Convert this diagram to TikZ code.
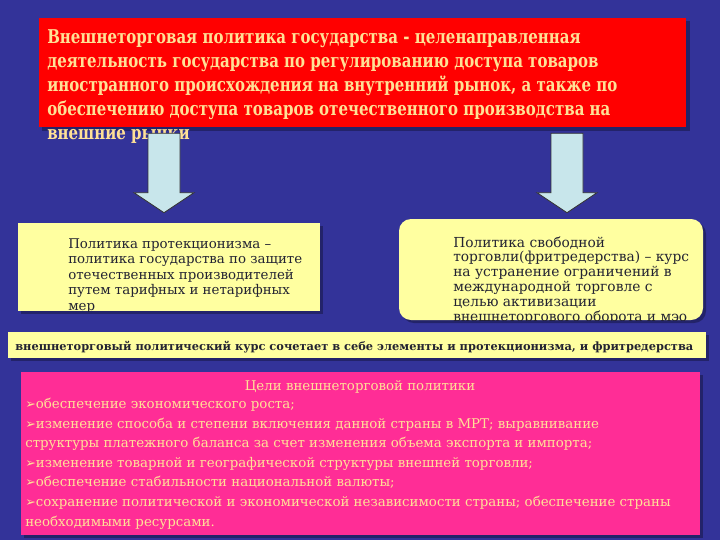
\documentclass[tikz,border=0pt]{standalone}
\usepackage{fontspec}
\setmainfont{DejaVu Serif}
\newfontfamily\estreita[FakeStretch=0.79]{DejaVu Serif}
\newfontfamily\marcador{DejaVu Sans}
\usetikzlibrary{positioning}
\usetikzlibrary{fit}
\usetikzlibrary{calc}
\definecolor{fundo}{RGB}{51,51,153}
\definecolor{vermelho}{RGB}{255,0,0}
\definecolor{amarelo}{RGB}{255,255,160}
\definecolor{rosa}{RGB}{255,45,150}
\definecolor{creme}{RGB}{255,225,150}
\definecolor{azulclaro}{RGB}{200,230,235}
\definecolor{tinta}{RGB}{35,35,50}
\tikzset{
  caixa/.style={fill=#1, inner sep=0pt},
  sombra/.style={fill=black, opacity=0.3},
  texto/.style={inner sep=0pt, anchor=base west, align=left},
  seta/.style={fill=azulclaro, draw=black!80, line width=0.6pt, line join=miter},
}
\newcommand{\alvo}{{\marcador\fontsize{9}{9}\selectfont ➢}}
\newcommand{\setabloco}[2]{%
  \filldraw[seta] ($(#1)+(-16,0)$) -- ($(#2)+(-16,-20)$) -- ($(#2)+(-30,-20)$)
    -- (#2) -- ($(#2)+(30,-20)$) -- ($(#2)+(16,-20)$) -- ($(#1)+(16,0)$) -- cycle;}

\begin{document}
\begin{tikzpicture}[x=0.025cm, y=-0.025cm]
  \fill[fundo] (0,0) rectangle (720,540);
  \useasboundingbox (0,0) rectangle (720,540);

  % sombras
  \fill[sombra] (42,21) rectangle (690,131);
  \fill[sombra] (21,226) rectangle (323,314);
  \fill[sombra, rounded corners=8.5pt] (402,222) rectangle (706,323);
  \fill[sombra] (11,335) rectangle (709,361);
  \fill[sombra] (24,375) rectangle (703,538);

  \node[caixa=vermelho, fit={(39,18) (686,127)}] (defn) {};
  \node[caixa=amarelo, fit={(18,223) (320,311)}] (protec) {};
  \node[caixa=amarelo, rounded corners=8.5pt, fit={(399,219) (703,320)}] (livre) {};
  \node[caixa=amarelo, fit={(8,332) (706,358)}] (misto) {};
  \node[caixa=rosa, fit={(21,372) (700,535)}] (metas) {};

  % base = ultima linha
  \node[texto, text=creme, font=\estreita\bfseries\fontsize{13.5}{16.9}\selectfont] (defntxt) at (47,139)
    {Внешнеторговая политика государства - целенаправленная\\
     деятельность государства по регулированию доступа товаров\\
     иностранного происхождения на внутренний рынок, а также по\\
     обеспечению доступа товаров отечественного производства на\\
     внешние рынки};

  \begin{scope}
    \clip (protec.south west) rectangle (protec.north east);
    \node[texto, text=tinta, font=\fontsize{9.5}{11}\selectfont] (protectxt) at (68,310)
      {Политика протекционизма –\\
       политика государства по защите\\
       отечественных производителей\\
       путем тарифных и нетарифных\\
       мер};
  \end{scope}

  \begin{scope}
    \clip[rounded corners=8.5pt] (livre.south west) rectangle (livre.north east);
    \node[texto, text=tinta, font=\fontsize{9.8}{10.5}\selectfont] (livretxt) at (453,321)
      {Политика свободной\\
       торговли(фритредерства) – курс\\
       на устранение ограничений в\\
       международной торговле с\\
       целью активизации\\
       внешнеторгового оборота и мэо};
  \end{scope}

  \node[texto, text=tinta, font=\bfseries\fontsize{8.1}{10}\selectfont] (mistotxt) at (15,350)
    {внешнеторговый политический курс сочетает в себе элементы и протекционизма, и фритредерства};

  \node[inner sep=0pt, anchor=base, text=creme, font=\fontsize{9.5}{13.9}\selectfont] (metastit) at (360,390)
    {Цели внешнеторговой политики};
  \node[texto, text=creme, font=\fontsize{9.5}{13.9}\selectfont] (metastxt) at (25,526)
    {\alvo обеспечение экономического роста;\\
     \alvo изменение способа и степени включения данной страны в МРТ; выравнивание\\
     структуры платежного баланса за счет изменения объема экспорта и импорта;\\
     \alvo изменение товарной и географической структуры внешней торговли;\\
     \alvo обеспечение стабильности национальной валюты;\\
     \alvo сохранение политической и экономической независимости страны; обеспечение страны\\
     необходимыми ресурсами.};

  % setas
  \coordinate (xe) at (164,0);
  \coordinate (xd) at (567,0);
  \coordinate (eTopo) at ($(defn.south -| xe)+(0,6)$);
  \coordinate (ePonta) at ($(protec.north -| xe)+(0,-10)$);
  \coordinate (dTopo) at ($(defn.south -| xd)+(0,6)$);
  \coordinate (dPonta) at ($(livre.north -| xd)+(0,-6)$);
  \setabloco{eTopo}{ePonta}
  \setabloco{dTopo}{dPonta}
\end{tikzpicture}
\end{document}
